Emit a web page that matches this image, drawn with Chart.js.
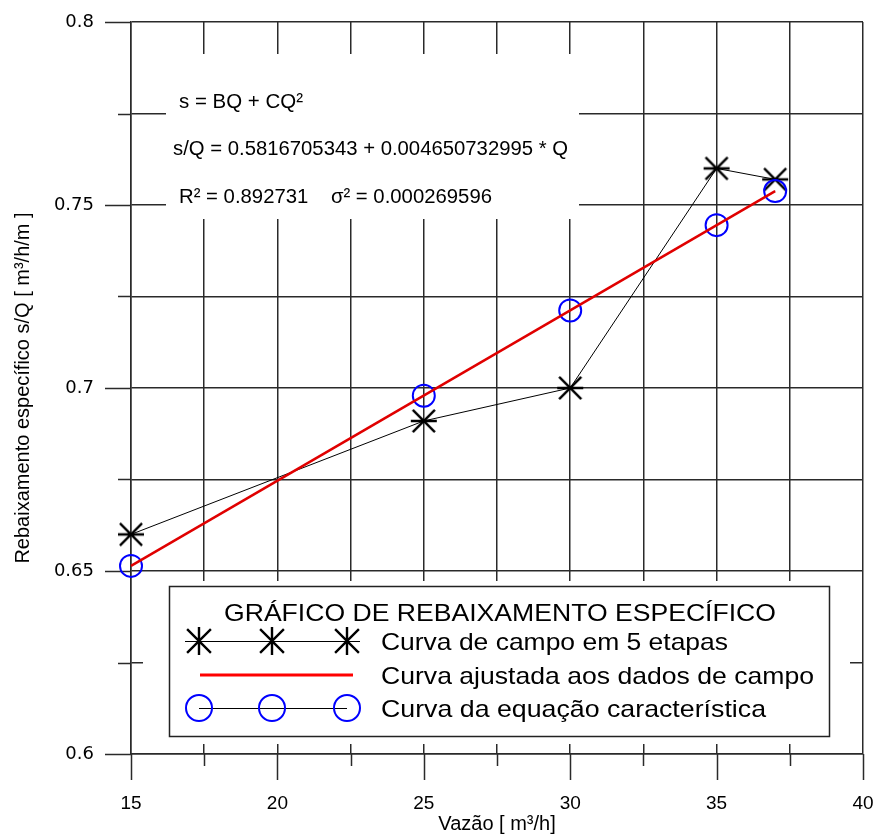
<!DOCTYPE html>
<html>
<head>
<meta charset="utf-8">
<script src="https://cdn.jsdelivr.net/npm/chart.js@4.4.1/dist/chart.umd.min.js"></script>
<style>
  body { margin: 0; background: #fff; }
</style>
</head>
<body>
<canvas id="myChart" width="876" height="836"></canvas>
<script>
// dados
const vazao = [15, 25, 30, 35, 37];
const campo = [0.660, 0.691, 0.700, 0.760, 0.757];
const ajusteQ = [15, 37];
const ajuste = [0.6514, 0.7538];
const equacao = [0.6514, 0.6979, 0.7212, 0.7445, 0.7538];

const legendLabels = ["Curva de campo em 5 etapas", "Curva ajustada aos dados de campo", "Curva da equação característica"];
const legendTitle = "GRÁFICO DE REBAIXAMENTO ESPECÍFICO";
const eqLines = ["s = BQ + CQ²", "s/Q = 0.5816705343 + 0.004650732995 * Q", "R² = 0.892731    σ² = 0.000269596"];

const FONT = '"Liberation Sans", Arial, sans-serif';
const GRID = '#2a2a2a';

function pts(xs, ys) {
    return xs.map(function(x, i) { return {x: x, y: ys[i]}; });
}

// asterisco: X + barra (horizontal no grafico, vertical na legenda)
function asterisk(size, vertical) {
    var c = document.createElement('canvas');
    c.width = size; c.height = size;
    var g = c.getContext('2d');
    var h = size / 2, r = size / 2 - 1;
    g.strokeStyle = '#000';
    g.lineWidth = 2.4;
    g.beginPath();
    g.moveTo(h - r * 0.85, h - r * 0.85); g.lineTo(h + r * 0.85, h + r * 0.85);
    g.moveTo(h + r * 0.85, h - r * 0.85); g.lineTo(h - r * 0.85, h + r * 0.85);
    if (vertical) { g.moveTo(h, h - r); g.lineTo(h, h + r); }
    else { g.moveTo(h - r, h); g.lineTo(h + r, h); }
    g.stroke();
    return c;
}

// texto esticado/comprimido para a largura medida na figura
function fitText(ctx, text, x, y, width, align) {
    var w = ctx.measureText(text).width;
    var k = width / w;
    ctx.save();
    ctx.textAlign = 'left';
    var left = align === 'center' ? x - width / 2 : x;
    ctx.translate(left, y);
    ctx.scale(k, 1);
    ctx.fillText(text, 0, 0);
    ctx.restore();
}

const starPlot = asterisk(28, false);

const decor = {
    id: 'decor',
    beforeDatasetsDraw: function(chart) {
        var ctx = chart.ctx;
        var xs = chart.scales.x, ys = chart.scales.y;
        ctx.save();
        // marcas fora da area do grafico
        ctx.strokeStyle = GRID;
        ctx.lineWidth = 1.5;
        ctx.beginPath();
        xs.ticks.forEach(function(t) {
            var px = Math.round(xs.getPixelForValue(t.value)) + 0.5;
            var major = Math.abs(t.value / 5 - Math.round(t.value / 5)) < 1e-6;
            ctx.moveTo(px, ys.bottom);
            ctx.lineTo(px, ys.bottom + (major ? 26 : 12));
        });
        ys.ticks.forEach(function(t) {
            var py = Math.round(ys.getPixelForValue(t.value)) + 0.5;
            var major = Math.abs(t.value * 20 - Math.round(t.value * 20)) < 1e-6;
            ctx.moveTo(xs.left, py);
            ctx.lineTo(xs.left - (major ? 26 : 13), py);
        });
        ctx.stroke();
        // fundos brancos do texto e da legenda
        ctx.fillStyle = '#fff';
        ctx.fillRect(166, 54, 413, 165);
        ctx.fillRect(143, 581, 707, 163);
        ctx.restore();
    },
    afterDraw: function(chart) {
        var ctx = chart.ctx;
        ctx.save();
        ctx.fillStyle = '#000';
        ctx.textBaseline = 'alphabetic';
        ctx.font = '20px ' + FONT;
        fitText(ctx, eqLines[0], 179, 108, 124);
        fitText(ctx, eqLines[1], 173, 155, 395);
        fitText(ctx, eqLines[2], 179, 203, 313);

        // legenda
        ctx.strokeStyle = '#222';
        ctx.lineWidth = 1.5;
        ctx.strokeRect(169.5, 586.5, 660, 150);
        ctx.font = '24px ' + FONT;
        fitText(ctx, legendTitle, 500, 621, 552, 'center');
        var rows = [641, 675, 708];
        var widths = [347, 433, 385];
        var sx = [199, 272, 347];
        rows.forEach(function(y, i) {
            fitText(ctx, legendLabels[i], 381, y + 9, widths[i]);
        });
        // simbolos
        ctx.strokeStyle = '#000';
        ctx.lineWidth = 1;
        ctx.beginPath();
        ctx.moveTo(185, rows[0] + 0.5); ctx.lineTo(360, rows[0] + 0.5);
        ctx.moveTo(199, rows[2] + 0.5); ctx.lineTo(347, rows[2] + 0.5);
        ctx.stroke();
        var starLeg = asterisk(30, true);
        sx.forEach(function(x) { ctx.drawImage(starLeg, x - 15, rows[0] - 15); });
        ctx.strokeStyle = '#ff0000';
        ctx.lineWidth = 3;
        ctx.beginPath();
        ctx.moveTo(200, rows[1]); ctx.lineTo(353, rows[1]);
        ctx.stroke();
        ctx.strokeStyle = '#0000ff';
        ctx.lineWidth = 2;
        sx.forEach(function(x) {
            ctx.beginPath();
            ctx.arc(x, rows[2], 13, 0, Math.PI * 2);
            ctx.stroke();
        });
        ctx.restore();
    }
};

function noPad(s) {
    s.paddingTop = 0; s.paddingBottom = 0; s.paddingLeft = 0; s.paddingRight = 0;
}

function renderChart() {
    var ctx = document.getElementById("myChart").getContext('2d');
    return new Chart(ctx, {
        type: 'scatter',
        data: {
            datasets: [{
                label: 'ajuste',
                data: pts(ajusteQ, ajuste),
                showLine: true,
                borderColor: '#e00000',
                borderWidth: 2.5,
                pointRadius: 0,
                clip: false,
                order: 0
            }, {
                label: 'equacao',
                data: pts(vazao, equacao),
                showLine: true,
                borderColor: '#000',
                borderWidth: 1,
                pointRadius: 11,
                pointBorderColor: '#0000ff',
                pointBackgroundColor: 'rgba(0,0,0,0)',
                pointBorderWidth: 2,
                clip: false,
                order: 1
            }, {
                label: 'campo',
                data: pts(vazao, campo),
                showLine: true,
                borderColor: '#000',
                borderWidth: 1,
                pointStyle: starPlot,
                clip: false,
                order: 2
            }]
        },
        options: {
            responsive: false,
            devicePixelRatio: 1,
            animation: false,
            events: [],
            layout: { padding: { top: 22, right: 13, left: 0, bottom: 0 } },
            plugins: { legend: { display: false }, tooltip: { enabled: false } },
            scales: {
                x: {
                    type: 'linear',
                    min: 15, max: 40,
                    afterFit: function(s) { s.height = 82; noPad(s); },
                    ticks: {
                        stepSize: 2.5,
                        color: '#000',
                        font: { family: FONT, size: 19 },
                        padding: 38,
                        maxRotation: 0,
                        autoSkip: false,
                        callback: function(v) { return Math.abs(v / 5 - Math.round(v / 5)) < 1e-6 ? String(v) : ''; }
                    },
                    grid: { color: GRID, lineWidth: 1.5, drawTicks: false },
                    border: { color: GRID, width: 1.5 },
                    title: { display: true, text: 'Vazão [ m³/h]', color: '#000', font: { family: FONT, size: 20 }, padding: { top: 0, bottom: 0 } }
                },
                y: {
                    min: 0.6, max: 0.8,
                    afterFit: function(s) { s.width = 131; noPad(s); },
                    ticks: {
                        stepSize: 0.025,
                        color: '#000',
                        font: { family: '"DejaVu Sans", Verdana, sans-serif', size: 18 },
                        padding: 37,
                        autoSkip: false,
                        callback: function(v) { return Math.abs(v * 20 - Math.round(v * 20)) < 1e-6 ? String(Math.round(v * 100) / 100) : ''; }
                    },
                    grid: { color: GRID, lineWidth: 1.5, drawTicks: false },
                    border: { color: GRID, width: 1.5 },
                    title: { display: true, text: 'Rebaixamento específico s/Q [ m³/h/m ]', color: '#000', font: { family: FONT, size: 20 }, padding: { top: 11, bottom: 0 } }
                }
            }
        },
        plugins: [decor]
    });
}

renderChart();
</script>
</body>
</html>
